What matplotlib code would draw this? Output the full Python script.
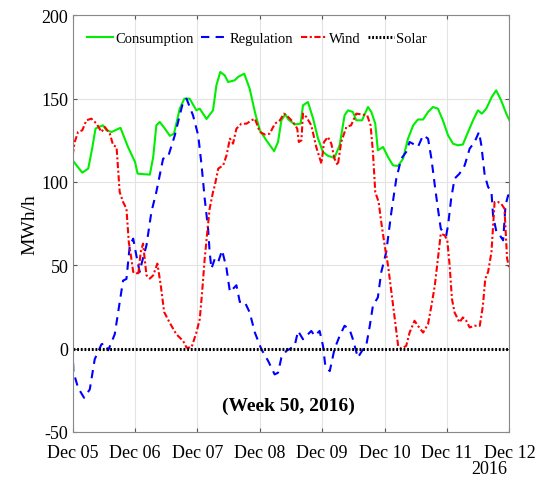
import matplotlib
matplotlib.use('Agg')
import matplotlib.pyplot as plt
import pandas as pd

plt.rcParams['font.family'] = ['Liberation Serif', 'DejaVu Serif']
plt.rcParams['axes.unicode_minus'] = False

START = pd.Timestamp('2016-12-05')

# hours since Dec 05 00:00, values in MWh/h
cons_hours = [0, 2, 3.7, 6, 7.5, 8.8, 10, 11.7, 13, 15, 18.4, 21.3, 24, 25, 29.7, 31,
              32.2, 33.5, 35.5, 37.4, 39, 41.2, 43, 45, 47.6, 48.9, 51.5, 54, 55.3,
              56.8, 58.5, 59.8, 62.3, 63.6, 66, 68.1, 70.1, 72, 74.5, 77.5, 79, 80.3,
              81.8, 83, 85.4, 87.7, 88.6, 90.5, 92.5, 94.4, 96.3, 98.2, 100.7, 102.7,
              104.6, 105.9, 107.8, 109.1, 111.3, 113.6, 114.9, 116.4, 117.4, 119.4,
              121.3, 123.2, 125.2, 127.1, 129, 131, 132.8, 134.8, 136.7, 138.6, 140.5,
              142.4, 144.4, 146.3, 148.2, 150.1, 152.1, 154, 155.9, 157.4, 159.1,
              161.2, 162.9, 164.8, 166.8, 168]
cons_vals = [113, 109, 105.6, 108, 120, 132, 133, 134, 131, 130, 132.5, 121, 112, 105,
             104.4, 115, 134, 136, 132, 127.7, 129, 144, 150, 150, 143, 144, 137.8, 143,
             158, 166, 164, 160, 161, 163, 165, 156, 142, 131, 125, 118.5, 124, 137,
             140.6, 137.5, 134.5, 135, 146, 148, 138, 126, 118, 115.7, 114.5, 122, 140,
             143, 142, 137, 137, 145, 142, 135, 119, 121, 115, 110, 109.6, 114, 126,
             134, 137.5, 137.5, 142, 145, 144, 137, 128, 123, 122, 122.5, 130, 137,
             143, 141, 144, 151, 155, 149, 141, 137]

reg_hours = [0, 0.3, 2.1, 4.4, 6.6, 8.5, 11.1, 12.5, 13.7, 16.2, 17.5, 19.4, 20.7, 22,
             23.3, 24.5, 25.8, 26.7, 28.4, 30.3, 32.2, 34.8, 36.7, 39.3, 41.2, 42.5,
             43.8, 46.3, 48.3, 49.6, 50.8, 52.1, 52.7, 53.4, 54.7, 56, 57.5, 59.2, 60.5,
             63, 64.3, 66.2, 68.1, 70.1, 72.6, 75.2, 77.7, 79, 80.3, 82.2, 84.8, 85.4,
             86.7, 88.6, 89.9, 91.8, 93.1, 95, 96.3, 97.2, 98.9, 100.7, 102.7, 104.6,
             106.5, 107.8, 109.7, 111.7, 112.9, 114.3, 115.5, 117.4, 118.7, 120.6,
             122.6, 124.5, 126.4, 128.3, 129.6, 130.8, 132.8, 134.8, 136.7, 138, 139.3,
             140.5, 141.6, 142.4, 143.7, 144.4, 145.6, 146.9, 148.8, 150.8, 152.7,
             154.6, 156.3, 157.2, 158.5, 159.8, 161.1, 161.7, 163, 164.3, 165.6, 166.5,
             167.5, 168]
reg_vals = [0, -14, -23.5, -29.5, -24.5, -6.4, 2.6, 3, -1, 8.6, 21.7, 40.8, 41.8, 62,
            66, 56, 46, 52, 62, 82, 94, 114, 115, 128, 140, 148, 150, 140, 128, 110, 90,
            72, 58, 48, 54, 52, 59, 48, 34, 38, 28, 28, 21.7, 9.6, -0.4, -7.4, -15.5,
            -14.5, -5.4, -1.4, 1, 1.6, 10.6, 5.6, 7.6, 10.6, 7.6, 10.6, 1.6, -10.4,
            -13.5, -0.4, 7.6, 13.7, 11.6, 5.6, -5.4, -0.4, 1.6, 13.7, 25.7, 30.7, 45.8,
            57.8, 82, 102, 114, 118, 124, 123, 121, 128, 126, 114, 98, 84, 72, 70, 68,
            74, 90, 102, 105, 110, 120, 124, 130, 122, 104, 97, 94, 80, 70, 68, 65, 86,
            92, 92]

wind_hours = [0, 0.8, 2.1, 3.7, 5.3, 7.2, 9.2, 11.1, 12.4, 14.3, 15.6, 16.9, 18.1, 19.4,
              20.7, 21.6, 22.4, 23.3, 24.5, 25.2, 26.2, 27.1, 28.4, 29.7, 31, 32.6,
              33.9, 35.2, 36.5, 38, 39.9, 42.5, 43.8, 45.7, 47.6, 48.9, 49.8, 50.8,
              51.8, 52.7, 54, 54.7, 56, 57.9, 59.2, 60.5, 61.7, 63, 64.9, 66.9, 68.8,
              70.1, 72, 73.9, 75.8, 77.8, 79.7, 81.3, 82.9, 84.8, 86.4, 87, 88, 88.6,
              89.9, 91.8, 93.7, 95.7, 96.7, 98.2, 99.5, 100.7, 102, 103.3, 105.3, 107.1,
              109.1, 111, 113.3, 114.6, 115.5, 116.4, 117.7, 118.7, 120, 121.3, 122.6,
              123.9, 125.2, 126.4, 128.3, 129.6, 131.5, 132.8, 134.8, 136.7, 138, 139.3,
              140.5, 141.6, 143.1, 144.1, 145, 145.9, 146.9, 148.8, 150.1, 151.4, 152.7,
              154.6, 156.6, 157.8, 158.7, 159.8, 161.1, 162.3, 163.6, 164.8, 166.1,
              167.1, 168]
wind_vals = [116, 124, 130, 131, 137, 138, 135, 130, 133, 129, 122, 121, 94, 88, 84, 64,
             56, 46, 46, 44, 58, 63, 44, 42, 44, 51, 38, 22, 18, 13.7, 8.6, 4.6, 0.6,
             0.6, 9.6, 17.7, 33.7, 54, 70, 84, 94, 98, 108, 110, 116, 126, 123, 132,
             135, 135, 137, 138, 130, 128.5, 129, 135, 137, 141, 139, 136, 132, 124,
             125, 141, 139, 134, 121, 111, 124, 127, 123, 114, 110, 124, 133, 134, 141,
             140.6, 140, 134, 118, 94, 88, 76, 62, 50, 34, 18, 1.6, 0, 1.6, 9.6, 16.7,
             13.7, 9.6, 14.7, 25.7, 37.8, 54, 69, 68, 65, 50, 29.7, 21.7, 15.7, 18.7,
             16.7, 12.7, 13.7, 13.7, 25.7, 41.8, 46, 58, 88, 88, 87, 84, 54, 48]

solar_hours = [0, 168]
solar_vals = [0, 0]

day_labels = ['Dec 05', 'Dec 06', 'Dec 07', 'Dec 08', 'Dec 09', 'Dec 10', 'Dec 11', 'Dec 12']


def to_time(hours):
    return START + pd.to_timedelta(hours, unit='h')


fig = plt.figure(figsize=(5.46, 4.81), dpi=100)
ax = fig.add_axes([0.133, 0.100, 0.800, 0.866])

ax.plot(to_time(cons_hours), cons_vals, color='#00ee00', lw=1.5, label='Consumption')
ax.plot(to_time(reg_hours), reg_vals, color='#0000ff', lw=1.5,
        linestyle=(0, (4, 3)), label='Regulation')
ax.plot(to_time(wind_hours), wind_vals, color='#ff0000', lw=1.5,
        linestyle=(0, (3, 1.2, 1, 1.2)), label='Wind')
ax.plot(to_time(solar_hours), solar_vals, color='black', lw=2.2,
        linestyle=(0, (0.6, 0.6)), label='Solar')

ax.set_xlim(START, START + pd.Timedelta(days=7))
ax.set_ylim(-50, 200)
ax.set_yticks(range(-50, 201, 50))
ticks = [START + pd.Timedelta(days=i) for i in range(8)]
ax.set_xticks(ticks)
ax.set_xticklabels(day_labels)
ax.grid(True, color='#e3e3e3', lw=0.8)
ax.set_axisbelow(True)
ax.tick_params(direction='in', top=True, right=True, labelsize=13, length=3,
               color='#555555', pad=3)
ax.tick_params(axis='x', pad=9)
for sp in ax.spines.values():
    sp.set_color('#888888')
    sp.set_linewidth(0.8)
ax.set_ylabel('MWh/h', fontsize=14, labelpad=2)

ax.text(0.493, 0.063, '(Week 50, 2016)', transform=ax.transAxes, ha='center',
        va='center', fontsize=14, fontweight='bold')
fig.text(0.896, 0.024, '2016', ha='center', va='center', fontsize=13)

ax.legend(loc='upper left', bbox_to_anchor=(0.01, 0.985), ncol=4, frameon=False,
          fontsize=10.5, handlelength=1.8, handletextpad=0.15, columnspacing=0.5,
          borderaxespad=0.3)

fig.savefig('out.png', dpi=100)
